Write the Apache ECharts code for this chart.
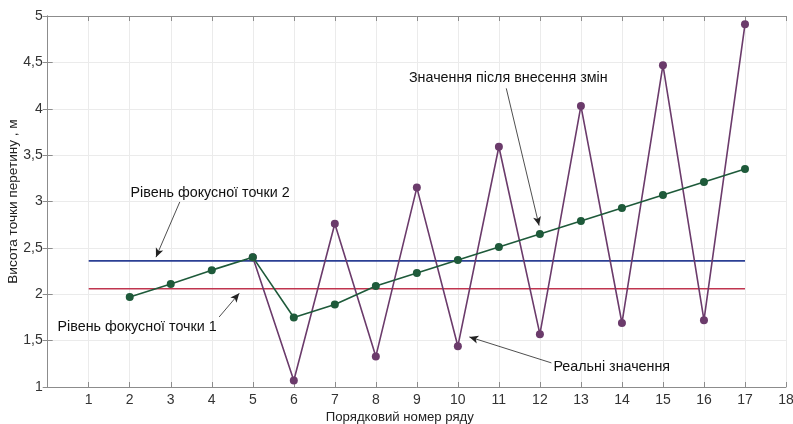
<!DOCTYPE html>
<html><head><meta charset="utf-8">
<script src="https://cdn.jsdelivr.net/npm/echarts@6/dist/echarts.min.js"></script>
<style>html,body{margin:0;padding:0;background:#fff}#c{width:793px;height:424px}</style>
</head><body><div id="c"></div>
<script>
const xTicks = [1,2,3,4,5,6,7,8,9,10,11,12,13,14,15,16,17,18];
const afterX = [2,3,4,5,6,7,8,9,10,11,12,13,14,15,16,17];
const afterY = [1.97,2.11,2.26,2.40,1.75,1.89,2.09,2.23,2.37,2.51,2.65,2.79,2.93,3.07,3.21,3.35];
const realX = [5,6,7,8,9,10,11,12,13,14,15,16,17];
const realY = [2.40,1.07,2.76,1.33,3.15,1.44,3.59,1.57,4.03,1.69,4.47,1.72,4.91];
const level1 = 2.06;
const level2 = 2.36;
const levelRange = [1,17];
const labels = {
  level2: 'Рівень фокусної точки 2',
  level1: 'Рівень фокусної точки 1',
  after: 'Значення після внесення змін',
  real: 'Реальні значення'
};

const FONT = 'Liberation Sans, Arial, sans-serif';
const pair = (xs, ys) => xs.map((x,i)=>[x, ys[i]]);
const chart = echarts.init(document.getElementById('c'), null, {renderer:'canvas'});

const arrow = (a,b) => [{coord:a, symbol:'none'},{coord:b, symbol:'arrow', symbolSize:[6,9]}];
const txt = (name, c, align) => ({name, coord:c, symbol:'circle', symbolSize:0,
  label:{show:true, formatter:name, position:'inside', align:align||'center', verticalAlign:'middle',
  color:'#111', fontSize:14.3, fontFamily:FONT}});

const gridLine = {show:true, lineStyle:{color:'#ebebeb', width:1}};
const axLine = {show:true, lineStyle:{color:'#8c8c8c', width:1}};
const tick = {show:true, inside:true, length:5, lineStyle:{color:'#8c8c8c'}};

chart.setOption({
  animation:false,
  grid:{left:47.7, right:7, top:16, bottom:37, containLabel:false, outerBoundsMode:'none'},
  xAxis:[{
    type:'value', min:0, max:18, interval:1, position:'bottom',
    axisLine:axLine, axisTick:tick, splitLine:gridLine,
    axisLabel:{color:'#333', fontSize:14, fontFamily:FONT, margin:6,
      formatter:v => xTicks.includes(v) ? String(v) : ''},
    name:'Порядковий номер ряду', nameLocation:'middle', nameGap:24, nameMoveOverlap:false,
    nameTextStyle:{color:'#222', fontSize:13.2, fontFamily:FONT, padding:[0,34,0,0]}
  },{
    type:'value', min:0, max:18, interval:1, position:'top',
    axisLine:axLine, axisTick:tick, splitLine:{show:false}, axisLabel:{show:false}
  }],
  yAxis:[{
    type:'value', min:1, max:5, interval:0.5, position:'left',
    axisLine:axLine, axisTick:tick, splitLine:gridLine,
    axisLabel:{color:'#333', fontSize:14, fontFamily:FONT, margin:5,
      formatter:v => String(v).replace('.', ',')},
    name:'Висота точки перетину , м', nameLocation:'middle', nameGap:27, nameMoveOverlap:false,
    nameTextStyle:{color:'#222', fontSize:13.6, fontFamily:FONT}
  },{
    type:'value', min:1, max:5, interval:0.5, position:'right',
    axisLine:axLine, axisTick:tick, splitLine:{show:false}, axisLabel:{show:false}
  }],
  series:[
    {type:'line', data:pair(levelRange,[level1,level1]), symbol:'none',
      lineStyle:{color:'#c0354f', width:1.6}, z:2},
    {type:'line', data:pair(levelRange,[level2,level2]), symbol:'none',
      lineStyle:{color:'#2b3f94', width:1.6}, z:2},
    {type:'line', data:pair(realX, realY), symbol:'circle', symbolSize:8,
      lineStyle:{color:'#6b3b6b', width:1.6}, itemStyle:{color:'#6b3b6b'}, z:3},
    {type:'line', data:pair(afterX, afterY), symbol:'circle', symbolSize:8,
      lineStyle:{color:'#1e5a3a', width:1.6}, itemStyle:{color:'#1e5a3a'}, z:4,
      markLine:{silent:true, animation:false, lineStyle:{color:'#222', width:0.8, type:'solid'},
        label:{show:false},
        data:[
          arrow([3.22,2.995],[2.64,2.40]),
          arrow([4.18,1.755],[4.67,2.01]),
          arrow([11.18,4.22],[11.98,2.74]),
          arrow([12.28,1.26],[10.28,1.54])
        ]},
      markPoint:{silent:true, animation:false, data:[
        txt(labels.level2,[3.96,3.09]),
        txt(labels.level1,[2.18,1.65]),
        txt(labels.after,[11.23,4.33]),
        txt(labels.real,[12.33,1.22],'left')
      ]}
    }
  ]
});
</script></body></html>
